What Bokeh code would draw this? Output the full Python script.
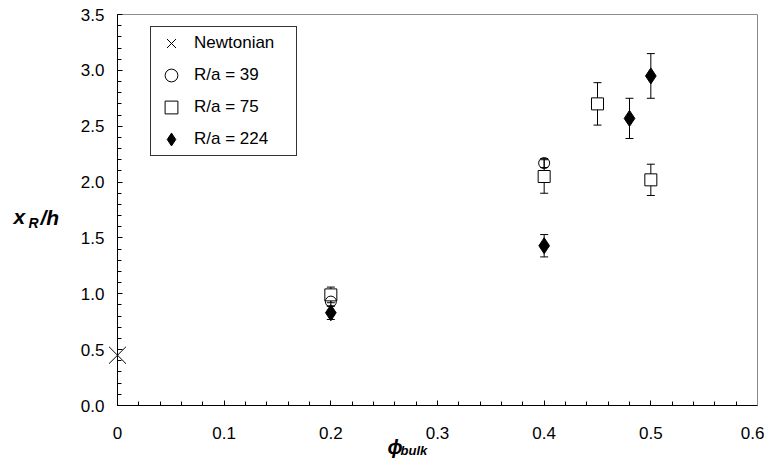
from bokeh.plotting import figure
from bokeh.models import (ColumnDataSource, Whisker, TeeHead, FixedTicker, Label,
                          Legend, LegendItem, LinearAxis)
from bokeh.embed import file_html
from bokeh.resources import INLINE

# ---- data ----
newt_x = [0.0]
newt_y = [0.45]

r39_x = [0.2, 0.4]
r39_y = [0.93, 2.17]
r39_err = [0.04, 0.04]

r75_x = [0.2, 0.4, 0.45, 0.5]
r75_y = [0.99, 2.05, 2.70, 2.02]
r75_err = [0.07, 0.15, 0.19, 0.14]

r224_x = [0.2, 0.4, 0.48, 0.5]
r224_y = [0.83, 1.43, 2.57, 2.95]
r224_err = [0.06, 0.10, 0.18, 0.20]

x_ticks = [0.0, 0.1, 0.2, 0.3, 0.4, 0.5, 0.6]
x_tick_labels = ["0", "0.1", "0.2", "0.3", "0.4", "0.5", "0.6"]
y_ticks = [0.0, 0.5, 1.0, 1.5, 2.0, 2.5, 3.0, 3.5]
y_tick_labels = ["0.0", "0.5", "1.0", "1.5", "2.0", "2.5", "3.0", "3.5"]

legend_labels = ["Newtonian", "R/a = 39", "R/a = 75", "R/a = 224"]

FONT = "Liberation Sans"

# canvas 764 x 460; the frame fills the canvas, axes are placed at fixed data locations
W, H = 764, 460
X0PX, X1PX, Y0PX, Y1PX = 117, 757, 405, 14      # pixel positions of x=0, x=0.6, y=0, y=3.5
sx = (X1PX - X0PX) / 0.6
sy = (Y0PX - Y1PX) / 3.5
x_range = (-X0PX / sx, 0.6 + (W - X1PX) / sx)
y_range = (-(H - Y0PX) / sy, 3.5 + Y1PX / sy)

p = figure(width=W, height=H, x_range=x_range, y_range=y_range,
           output_backend="svg", toolbar_location=None,
           min_border=0, min_border_left=0, min_border_right=0,
           min_border_top=0, min_border_bottom=0, x_axis_type=None, y_axis_type=None)
p.xgrid.visible = False
p.ygrid.visible = False
p.outline_line_color = None
p.background_fill_color = "white"
p.border_fill_color = "white"

xax = LinearAxis(fixed_location=0, bounds=(0, 0.6),
                 ticker=FixedTicker(ticks=x_ticks, minor_ticks=[i * 0.02 for i in range(31)]))
yax = LinearAxis(fixed_location=0, bounds=(0, 3.5),
                 ticker=FixedTicker(ticks=y_ticks, minor_ticks=[i * 0.1 for i in range(36)]))
xax.major_label_overrides = dict(zip(x_ticks, x_tick_labels))
yax.major_label_overrides = dict(zip(y_ticks, y_tick_labels))
for ax in (xax, yax):
    ax.axis_line_color = "black"
    ax.axis_line_width = 1
    ax.major_tick_in = 5
    ax.major_tick_out = 0
    ax.minor_tick_in = 4
    ax.minor_tick_out = 0
    ax.major_tick_line_color = "black"
    ax.minor_tick_line_color = "black"
    ax.major_label_text_font = FONT
    ax.major_label_text_font_size = "17px"
    ax.major_label_text_color = "black"
xax.major_label_standoff = 21
yax.major_label_standoff = 13
p.add_layout(xax, "below")
p.add_layout(yax, "left")

# gray frame lines (top and right)
top_ax = LinearAxis(fixed_location=3.5, bounds=(0, 0.6), ticker=FixedTicker(ticks=[]))
right_ax = LinearAxis(fixed_location=0.6, bounds=(0, 3.5), ticker=FixedTicker(ticks=[]))
for ax in (top_ax, right_ax):
    ax.axis_line_color = "#8c8c8c"
    ax.axis_line_width = 1
    ax.major_tick_line_color = None
    ax.minor_tick_line_color = None
    ax.major_label_text_alpha = 0
p.add_layout(top_ax, "above")
p.add_layout(right_ax, "right")


def errbars(xs, ys, es):
    src = ColumnDataSource(dict(x=xs, upper=[y + e for y, e in zip(ys, es)],
                                lower=[y - e for y, e in zip(ys, es)]))
    w = Whisker(base="x", upper="upper", lower="lower", source=src,
                line_color="black", line_width=1,
                upper_head=TeeHead(size=8, line_color="black", line_width=1),
                lower_head=TeeHead(size=8, line_color="black", line_width=1))
    p.add_layout(w)


errbars(r75_x, r75_y, r75_err)
errbars(r224_x, r224_y, r224_err)
errbars(r39_x, r39_y, r39_err)

p.scatter(newt_x, newt_y, marker="x", size=24, line_color="black", line_width=1)
p.scatter(r75_x, r75_y, marker="square", size=12, fill_color="white",
          line_color="black", line_width=1)
p.scatter(r39_x, r39_y, marker="circle", size=11, fill_color=None,
          line_color="black", line_width=1)
p.scatter(r224_x, r224_y, marker="diamond", size=16, fill_color="black",
          line_color="black")

# legend proxies: same data, hidden from the plot area (legend sizes its own markers)
lg_n = p.scatter(newt_x, newt_y, marker="x", line_color="black", visible=False)
lg_39 = p.scatter(r39_x, r39_y, marker="circle", fill_color=None,
                  line_color="black", visible=False)
lg_75 = p.scatter(r75_x, r75_y, marker="square", fill_color=None,
                  line_color="black", visible=False)
lg_224 = p.scatter(r224_x, r224_y, marker="diamond", fill_color="black",
                   line_color="black", visible=False)

LEG_LEFT, LEG_TOP, LEG_H = 150, 28, 128
legend = Legend(items=[LegendItem(label=l, renderers=[r], index=0) for l, r in
                       zip(legend_labels, [lg_n, lg_39, lg_75, lg_224])],
                location=(LEG_LEFT, H - LEG_TOP - LEG_H))
legend.border_line_color = "#333333"
legend.border_line_alpha = 1.0
legend.border_line_width = 1
legend.background_fill_alpha = 1.0
legend.padding = 0
legend.spacing = 0
legend.glyph_width = 40
legend.glyph_height = 32
legend.label_height = 20
legend.label_width = 102
legend.label_standoff = 3
legend.label_text_font = FONT
legend.label_text_font_size = "17px"
legend.label_text_color = "black"
legend.label_text_baseline = "middle"
legend.margin = 0
legend.click_policy = "none"
p.add_layout(legend)

# axis titles (bold italic, with subscripts)
def px2x(px):
    return (px - X0PX) / sx

def px2y(py):
    return (Y0PX - py) / sy

TS = dict(text_font=FONT, text_font_style="bold italic", text_color="black",
          text_baseline="alphabetic", text_align="left")
p.add_layout(Label(x=px2x(13), y=px2y(216), text="x", text_font_size="21px", **TS))
p.add_layout(Label(x=px2x(28), y=px2y(222), text="R", text_font_size="14px", **TS))
p.add_layout(Label(x=px2x(40), y=px2y(217), text="/h", text_font_size="21px", **TS))
p.add_layout(Label(x=px2x(387), y=px2y(446), text="ϕ", text_font_size="20px", **TS))
p.add_layout(Label(x=px2x(400), y=px2y(450), text="bulk", text_font_size="13px", **TS))

open("out.html", "w").write(file_html(p, INLINE))
